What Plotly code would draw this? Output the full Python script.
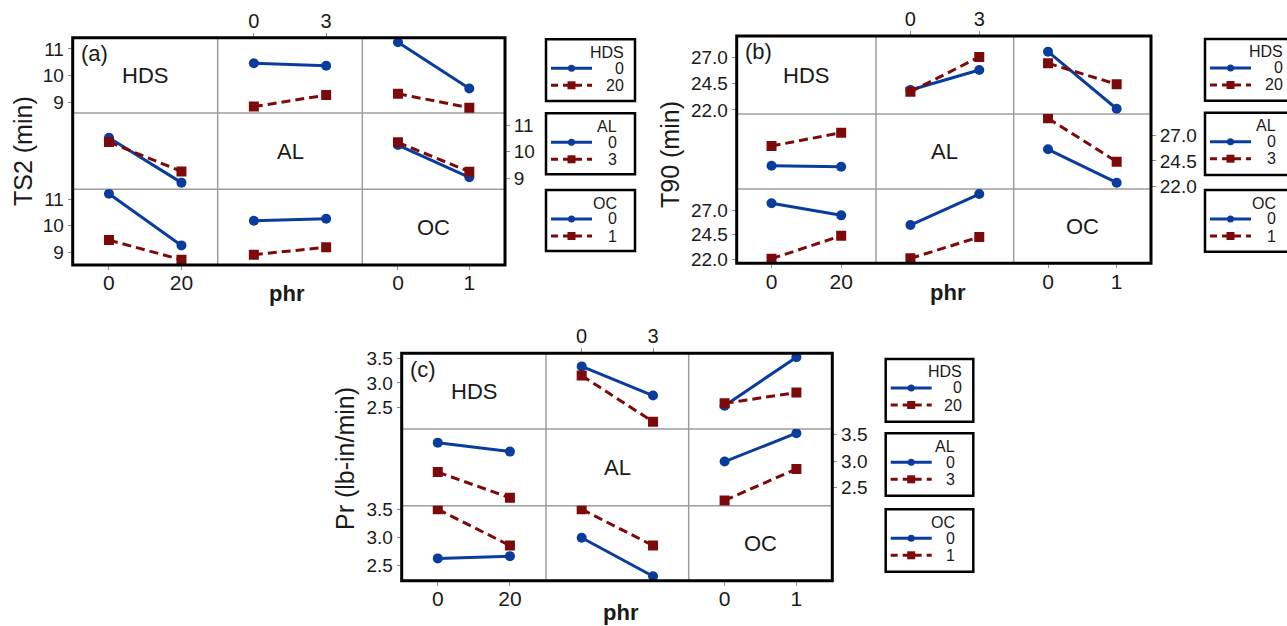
import plotly.graph_objects as go

W, H = 1287, 626

# ---------------- data ----------------
factors = ["HDS", "AL", "OC"]
hds_levels = [0, 20]
al_levels = [0, 3]
oc_levels = [0, 1]
level_labels = {"HDS": ["0", "20"], "AL": ["0", "3"], "OC": ["0", "1"]}

# (a) TS2 (min): [series for low level of row factor, series for high level]
ts2_hds_vs_al = [[10.46, 10.37], [8.84, 9.27]]
ts2_hds_vs_oc = [[11.25, 9.52], [9.32, 8.80]]
ts2_al_vs_hds = [[10.52, 8.84], [10.36, 9.26]]
ts2_al_vs_oc = [[10.25, 9.04], [10.35, 9.25]]
ts2_oc_vs_hds = [[11.21, 9.26], [9.46, 8.72]]
ts2_oc_vs_al = [[10.19, 10.27], [8.91, 9.19]]

# (b) T90 (min)
t90_hds_vs_al = [[23.90, 25.79], [23.73, 27.03]]
t90_hds_vs_oc = [[27.53, 22.12], [26.43, 24.44]]
t90_al_vs_hds = [[24.03, 23.93], [25.94, 27.22]]
t90_al_vs_oc = [[25.62, 22.39], [28.61, 24.42]]
t90_oc_vs_hds = [[27.68, 26.46], [22.06, 24.39]]
t90_oc_vs_al = [[25.48, 28.62], [22.10, 24.26]]

# (c) Pr (lb-in/min)
pr_hds_vs_al = [[3.34, 2.74], [3.15, 2.20]]
pr_hds_vs_oc = [[2.53, 3.53], [2.58, 2.80]]
pr_al_vs_hds = [[3.35, 3.18], [2.79, 2.30]]
pr_al_vs_oc = [[2.99, 3.53], [2.25, 2.85]]
pr_oc_vs_hds = [[2.62, 2.66], [3.50, 2.85]]
pr_oc_vs_al = [[2.99, 2.30], [3.50, 2.85]]

ts2_ticks = [9, 10, 11]
ts2_ticktext = ["9", "10", "11"]
t90_ticks = [22.0, 24.5, 27.0]
t90_ticktext = ["22.0", "24.5", "27.0"]
pr_ticks = [2.5, 3.0, 3.5]
pr_ticktext = ["2.5", "3.0", "3.5"]

# ---------------- style / layout ----------------
BLUE = "#0a3c9e"
RED = "#7d0a0a"
GRID = "#9c9c9c"
TXT = "#1a1a1a"
FONT = "Arial, Liberation Sans, sans-serif"

levels = {"HDS": hds_levels, "AL": al_levels, "OC": oc_levels}
xr = {"HDS": [-10, 30], "AL": [-1.5, 4.5], "OC": [-0.5, 1.5]}

panels = [
    dict(label="(a)", ytitle="TS2 (min)",
         data={("HDS", "AL"): ts2_hds_vs_al, ("HDS", "OC"): ts2_hds_vs_oc,
               ("AL", "HDS"): ts2_al_vs_hds, ("AL", "OC"): ts2_al_vs_oc,
               ("OC", "HDS"): ts2_oc_vs_hds, ("OC", "AL"): ts2_oc_vs_al},
         ticks=ts2_ticks, ticktext=ts2_ticktext,
         cols=[72.7, 217.7, 362.3, 505], rows=[37.7, 113, 189.3, 265],
         yr=[[8.6, 11.42], [8.59, 11.45], [8.52, 11.38]],
         ytitle_pos=(23, 151), phr_pos=(287, 293),
         leg_x=(546, 635), leg_boxes=[(39.3, 101), (113.3, 174.3), (190, 251)]),
    dict(label="(b)", ytitle="T90 (min)",
         data={("HDS", "AL"): t90_hds_vs_al, ("HDS", "OC"): t90_hds_vs_oc,
               ("AL", "HDS"): t90_al_vs_hds, ("AL", "OC"): t90_al_vs_oc,
               ("OC", "HDS"): t90_oc_vs_hds, ("OC", "AL"): t90_oc_vs_al},
         ticks=t90_ticks, ticktext=t90_ticktext,
         cols=[736.7, 876, 1013.7, 1151], rows=[36, 114, 189, 263.3],
         yr=[[21.62, 29.02], [21.78, 29.03], [21.6, 29.13]],
         ytitle_pos=(670, 155), phr_pos=(948, 292),
         leg_x=(1205, 1294), leg_boxes=[(39, 100.7), (112.7, 175), (190, 251.7)]),
    dict(label="(c)", ytitle="Pr (lb-in/min)",
         data={("HDS", "AL"): pr_hds_vs_al, ("HDS", "OC"): pr_hds_vs_oc,
               ("AL", "HDS"): pr_al_vs_hds, ("AL", "OC"): pr_al_vs_oc,
               ("OC", "HDS"): pr_oc_vs_hds, ("OC", "AL"): pr_oc_vs_al},
         ticks=pr_ticks, ticktext=pr_ticktext,
         cols=[401.7, 546, 688.7, 832.3], rows=[353.3, 429, 505.7, 580.7],
         yr=[[2.05, 3.61], [2.15, 3.61], [2.22, 3.565]],
         ytitle_pos=(345, 459), phr_pos=(621, 612),
         leg_x=(885.7, 973.3), leg_boxes=[(359, 421.7), (433.3, 495.7), (509.3, 571.7)]),
]


def fx(x):
    return x / W


def fy(y):
    return 1 - y / H


fig = go.Figure()
layout = dict(width=W, height=H, margin=dict(l=0, r=0, t=0, b=0),
              paper_bgcolor="white", plot_bgcolor="white", showlegend=False,
              template="none", font=dict(family=FONT, color=TXT))
shapes = []
annotations = []

k = 0
for p in panels:
    cols, rows = p["cols"], p["rows"]
    for r in range(3):
        for c in range(3):
            k += 1
            xa = "xaxis" if k == 1 else f"xaxis{k}"
            ya = "yaxis" if k == 1 else f"yaxis{k}"
            xr_id = "x" if k == 1 else f"x{k}"
            yr_id = "y" if k == 1 else f"y{k}"
            rf, cf = factors[r], factors[c]
            xaxis = dict(domain=[fx(cols[c]), fx(cols[c + 1])], range=xr[cf],
                         anchor=yr_id, showgrid=False, zeroline=False, showline=False,
                         showticklabels=False, ticks="", fixedrange=True)
            yaxis = dict(domain=[fy(rows[r + 1]), fy(rows[r])], range=p["yr"][r],
                         anchor=xr_id, showgrid=False, zeroline=False, showline=False,
                         showticklabels=False, ticks="", fixedrange=True)
            tick_common = dict(showticklabels=True, ticks="outside", ticklen=4,
                               tickwidth=1, tickcolor="#8c8c8c")
            if r == 2 and c in (0, 2):
                xaxis.update(tick_common, side="bottom", tickvals=levels[cf],
                             ticktext=level_labels[cf], ticklabelstandoff=-5,
                             tickfont=dict(size=21, family=FONT, color=TXT))
            if r == 0 and c == 1:
                xaxis.update(tick_common, side="top", tickvals=levels[cf],
                             ticktext=level_labels[cf], ticklabelstandoff=-3,
                             tickfont=dict(size=20, family=FONT, color=TXT))
            if c == 0 and r in (0, 2):
                yaxis.update(tick_common, side="left", tickvals=p["ticks"],
                             ticktext=p["ticktext"],
                             tickfont=dict(size=19, family=FONT, color=TXT))
            if c == 2 and r == 1:
                yaxis.update(tick_common, side="right", tickvals=p["ticks"],
                             ticktext=p["ticktext"],
                             tickfont=dict(size=19, family=FONT, color=TXT))
            layout[xa] = xaxis
            layout[ya] = yaxis
            if r == c:
                fig.add_trace(go.Scatter(x=[], y=[], xaxis=xr_id, yaxis=yr_id,
                                         hoverinfo="skip"))
                cx = (cols[c] + cols[c + 1]) / 2
                cy = (rows[r] + rows[r + 1]) / 2
                annotations.append(dict(text=rf, x=fx(cx), y=fy(cy), xref="paper",
                                        yref="paper", showarrow=False,
                                        xanchor="center", yanchor="middle",
                                        font=dict(size=22, family=FONT, color=TXT)))
                continue
            series = p["data"][(rf, cf)]
            for i, (col, dash, sym) in enumerate([(BLUE, "solid", "circle"),
                                                  (RED, "9px,5px", "square")]):
                fig.add_trace(go.Scatter(
                    x=levels[cf], y=series[i], xaxis=xr_id, yaxis=yr_id,
                    mode="lines+markers",
                    line=dict(color=col, width=3, dash=dash),
                    marker=dict(color=col, size=10, symbol=sym, line=dict(width=0)),
                    hoverinfo="skip"))

    for xv in cols[1:3]:
        shapes.append(dict(type="line", xref="paper", yref="paper",
                           x0=fx(xv), x1=fx(xv), y0=fy(rows[0]), y1=fy(rows[3]),
                           line=dict(color=GRID, width=1.5), layer="below"))
    for yv in rows[1:3]:
        shapes.append(dict(type="line", xref="paper", yref="paper",
                           x0=fx(cols[0]), x1=fx(cols[3]), y0=fy(yv), y1=fy(yv),
                           line=dict(color=GRID, width=1.5), layer="below"))
    shapes.append(dict(type="rect", xref="paper", yref="paper",
                       x0=fx(cols[0]), x1=fx(cols[3]), y0=fy(rows[3]), y1=fy(rows[0]),
                       line=dict(color="black", width=3), fillcolor="rgba(0,0,0,0)"))

    annotations.append(dict(text=p["label"], x=fx(cols[0] + 6), y=fy(rows[0] + 16),
                            xref="paper", yref="paper", showarrow=False,
                            xanchor="left", yanchor="middle",
                            font=dict(size=22, family=FONT, color=TXT)))
    annotations.append(dict(text=p["ytitle"], x=fx(p["ytitle_pos"][0]),
                            y=fy(p["ytitle_pos"][1]), xref="paper", yref="paper",
                            showarrow=False, textangle=-90, xanchor="center",
                            yanchor="middle",
                            font=dict(size=25, family=FONT, color=TXT)))
    annotations.append(dict(text="<b>phr</b>", x=fx(p["phr_pos"][0]),
                            y=fy(p["phr_pos"][1]), xref="paper", yref="paper",
                            showarrow=False, xanchor="center", yanchor="middle",
                            font=dict(size=22, family=FONT, color=TXT)))

    bx0, bx1 = p["leg_x"]
    for j, (bt, bb) in enumerate(p["leg_boxes"]):
        f = factors[j]
        shapes.append(dict(type="rect", xref="paper", yref="paper",
                           x0=fx(bx0), x1=fx(bx1), y0=fy(bb), y1=fy(bt),
                           line=dict(color="black", width=2.5),
                           fillcolor="white"))
        tr = bx1 - (9 if j == 0 else 16)
        annotations.append(dict(text=f, x=fx(tr), y=fy(bt + 13), xref="paper",
                                yref="paper", showarrow=False, xanchor="right",
                                yanchor="middle",
                                font=dict(size=16, family=FONT, color=TXT)))
        for i, (col, dash) in enumerate([(BLUE, "solid"), (RED, "7px,5px")]):
            ly = bt + (29 if i == 0 else 46)
            lx0, lx1 = bx0 + 5, bx0 + 46
            shapes.append(dict(type="line", xref="paper", yref="paper",
                               x0=fx(lx0), x1=fx(lx1), y0=fy(ly), y1=fy(ly),
                               line=dict(color=col, width=3, dash=dash)))
            mx = (lx0 + lx1) / 2
            if i == 0:
                shapes.append(dict(type="circle", xref="paper", yref="paper",
                                   x0=fx(mx - 3.5), x1=fx(mx + 3.5), y0=fy(ly + 3.5),
                                   y1=fy(ly - 3.5), fillcolor=col,
                                   line=dict(color=col, width=0)))
            else:
                shapes.append(dict(type="rect", xref="paper", yref="paper",
                                   x0=fx(mx - 4), x1=fx(mx + 4), y0=fy(ly + 4),
                                   y1=fy(ly - 4), fillcolor=col,
                                   line=dict(color=col, width=0)))
            annotations.append(dict(text=level_labels[f][i], x=fx(tr), y=fy(ly),
                                    xref="paper", yref="paper", showarrow=False,
                                    xanchor="right", yanchor="middle",
                                    font=dict(size=16, family=FONT, color=TXT)))

layout["shapes"] = shapes
layout["annotations"] = annotations
fig.update_layout(**layout)
fig.write_html("out.html")
